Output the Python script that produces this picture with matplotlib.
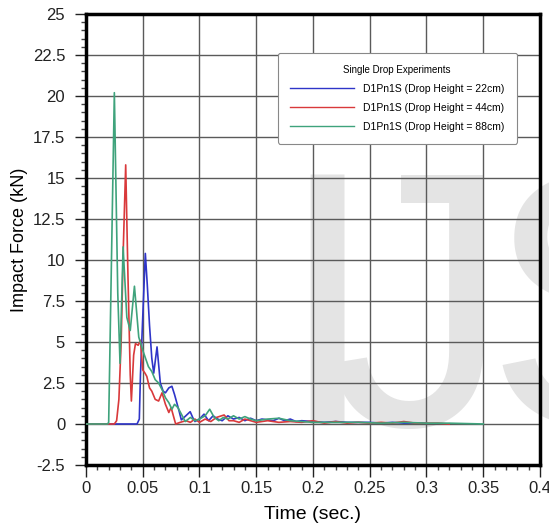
import numpy as np
import matplotlib.pyplot as plt
from matplotlib.ticker import MultipleLocator

plt.rcParams['font.family'] = ['Liberation Sans', 'DejaVu Sans']

# impact force traces (kN) vs time (sec.)
t_22 = [0, 0.02, 0.03, 0.04, 0.045, 0.047, 0.048, 0.050, 0.0523, 0.054, 0.056, 0.058,
        0.0597, 0.0626, 0.0655, 0.068, 0.070, 0.073, 0.0757, 0.078, 0.080, 0.082, 0.084,
        0.088, 0.0918, 0.094, 0.096, 0.100, 0.104, 0.108, 0.112, 0.116, 0.120, 0.125,
        0.130, 0.135, 0.140, 0.145, 0.150, 0.155, 0.160, 0.165, 0.170, 0.175, 0.180,
        0.185, 0.19, 0.20, 0.21, 0.22, 0.23, 0.24, 0.25, 0.26, 0.27, 0.28, 0.29, 0.30]
f_22 = [0, 0, 0, 0, 0, 0.3, 3, 6.5, 10.4, 8.5, 6, 4, 3.1, 4.7, 2.5, 2.0, 1.9, 2.2, 2.3,
        1.8, 1.3, 0.8, 0.25, 0.5, 0.75, 0.4, 0.15, 0.3, 0.6, 0.2, 0.5, 0.3, 0.2, 0.5, 0.3,
        0.4, 0.2, 0.35, 0.2, 0.3, 0.25, 0.2, 0.35, 0.2, 0.3, 0.15, 0.2, 0.15, 0.1, 0.15,
        0.1, 0.1, 0.1, 0.05, 0.1, 0.05, 0.05, 0.05]

t_44 = [0, 0.015, 0.025, 0.027, 0.029, 0.031, 0.033, 0.035, 0.037, 0.039, 0.040, 0.042,
        0.0436, 0.046, 0.048, 0.050, 0.052, 0.0536, 0.056, 0.058, 0.061, 0.064, 0.067,
        0.070, 0.073, 0.075, 0.079, 0.083, 0.088, 0.092, 0.096, 0.100, 0.105, 0.110,
        0.115, 0.1217, 0.126, 0.130, 0.135, 0.14, 0.15, 0.16, 0.17, 0.18, 0.19, 0.20,
        0.21, 0.22, 0.23, 0.24, 0.25, 0.26, 0.27, 0.28, 0.29, 0.30, 0.31, 0.32]
f_44 = [0, 0, 0, 0.2, 1.5, 5, 11, 15.8, 9, 3, 1.4, 4.2, 4.9, 4.8, 5.1, 3.3, 3.1, 2.9,
        2.2, 2.0, 1.5, 1.4, 1.9, 1.2, 0.7, 1.0, 0.0, 0.1, 0.2, 0.1, 0.3, 0.1, 0.3, 0.15,
        0.4, 0.55, 0.2, 0.2, 0.1, 0.3, 0.1, 0.2, 0.1, 0.15, 0.1, 0.2, 0.05, 0.15, 0.05,
        0.1, 0.05, 0.1, 0.05, 0.15, 0.05, 0.05, 0.05, 0.0]

t_88 = [0, 0.015, 0.019, 0.020, 0.025, 0.028, 0.030, 0.0327, 0.036, 0.039, 0.0427,
        0.0465, 0.050, 0.055, 0.058, 0.061, 0.064, 0.067, 0.070, 0.073, 0.0757, 0.078,
        0.081, 0.0875, 0.092, 0.096, 0.100, 0.105, 0.109, 0.113, 0.117, 0.121, 0.125,
        0.130, 0.135, 0.140, 0.145, 0.150, 0.16, 0.17, 0.18, 0.19, 0.20, 0.22, 0.24,
        0.26, 0.28, 0.30, 0.32, 0.35]
f_88 = [0, 0, 0, 0.1, 20.2, 8, 3.7, 10.8, 6.5, 5.7, 8.4, 5.3, 4.5, 3.5, 3.2, 2.7, 2.5,
        2.1, 1.6, 1.3, 0.9, 1.2, 1.0, 0.15, 0.4, 0.2, 0.3, 0.5, 0.9, 0.4, 0.2, 0.4, 0.3,
        0.5, 0.3, 0.45, 0.3, 0.2, 0.3, 0.35, 0.2, 0.15, 0.1, 0.1, 0.1, 0.05, 0.1, 0.05,
        0.05, 0.0]

labels = ['D1Pn1S (Drop Height = 22cm)', 'D1Pn1S (Drop Height = 44cm)',
          'D1Pn1S (Drop Height = 88cm)']
colors = ['#2f35c8', '#d9393b', '#3fa37c']

fig = plt.figure(figsize=(5.49, 5.26), dpi=100)
ax = fig.add_axes([0.1566, 0.116, 0.8270, 0.8574])

# faint background lettering, one glyph at a time (pixel coords from bottom-left)
for ch, x in [('I', 327), ('J', 418), ('S', 485)]:
    ax.text(x, 101, ch, transform=None, fontsize=262, color='#e4e4e4',
            ha='left' if ch == 'S' else 'center', va='baseline', zorder=0.5,
            clip_on=False)

for t, f, c, lab in zip([t_22, t_44, t_88], [f_22, f_44, f_88], colors, labels):
    ax.plot(t, f, color=c, lw=1.2, label=lab, zorder=3)

ax.set_xlim(0, 0.4)
ax.set_ylim(-2.5, 25)
ax.xaxis.set_major_locator(MultipleLocator(0.05))
ax.xaxis.set_minor_locator(MultipleLocator(0.01))
ax.yaxis.set_major_locator(MultipleLocator(2.5))
ax.yaxis.set_minor_locator(MultipleLocator(0.5))
ax.xaxis.set_major_formatter(plt.FuncFormatter(lambda v, p: '%g' % round(v, 3)))
ax.yaxis.set_major_formatter(plt.FuncFormatter(lambda v, p: '%g' % round(v, 2)))

ax.grid(True, which='major', color='#5a5a5a', lw=1.0)
ax.tick_params(which='major', direction='out', width=1, labelsize=12, colors='#222222')
ax.tick_params(axis='x', which='major', length=8.5, pad=3)
ax.tick_params(axis='y', which='major', length=8, pad=7)
ax.tick_params(which='minor', direction='out', length=3.5, width=1, colors='#444444')
for s in ax.spines.values():
    s.set_linewidth(2.5)
    s.set_color('black')

ax.set_xlabel('Time (sec.)', fontsize=14, labelpad=7)
ax.set_ylabel('Impact Force (kN)', fontsize=13, labelpad=3.5)

leg = ax.legend(loc='upper right', bbox_to_anchor=(0.949, 0.9135), borderaxespad=0,
                title='Single Drop Experiments', fontsize=7.5, title_fontsize=7,
                handlelength=6.2, handletextpad=0.9, frameon=True, fancybox=True,
                framealpha=1, edgecolor='#888888', borderpad=1.15, labelspacing=0.85)
leg.get_frame().set_linewidth(0.8)
for line in leg.get_lines():
    line.set_linewidth(1.0)

fig.savefig('out.png', dpi=100)
